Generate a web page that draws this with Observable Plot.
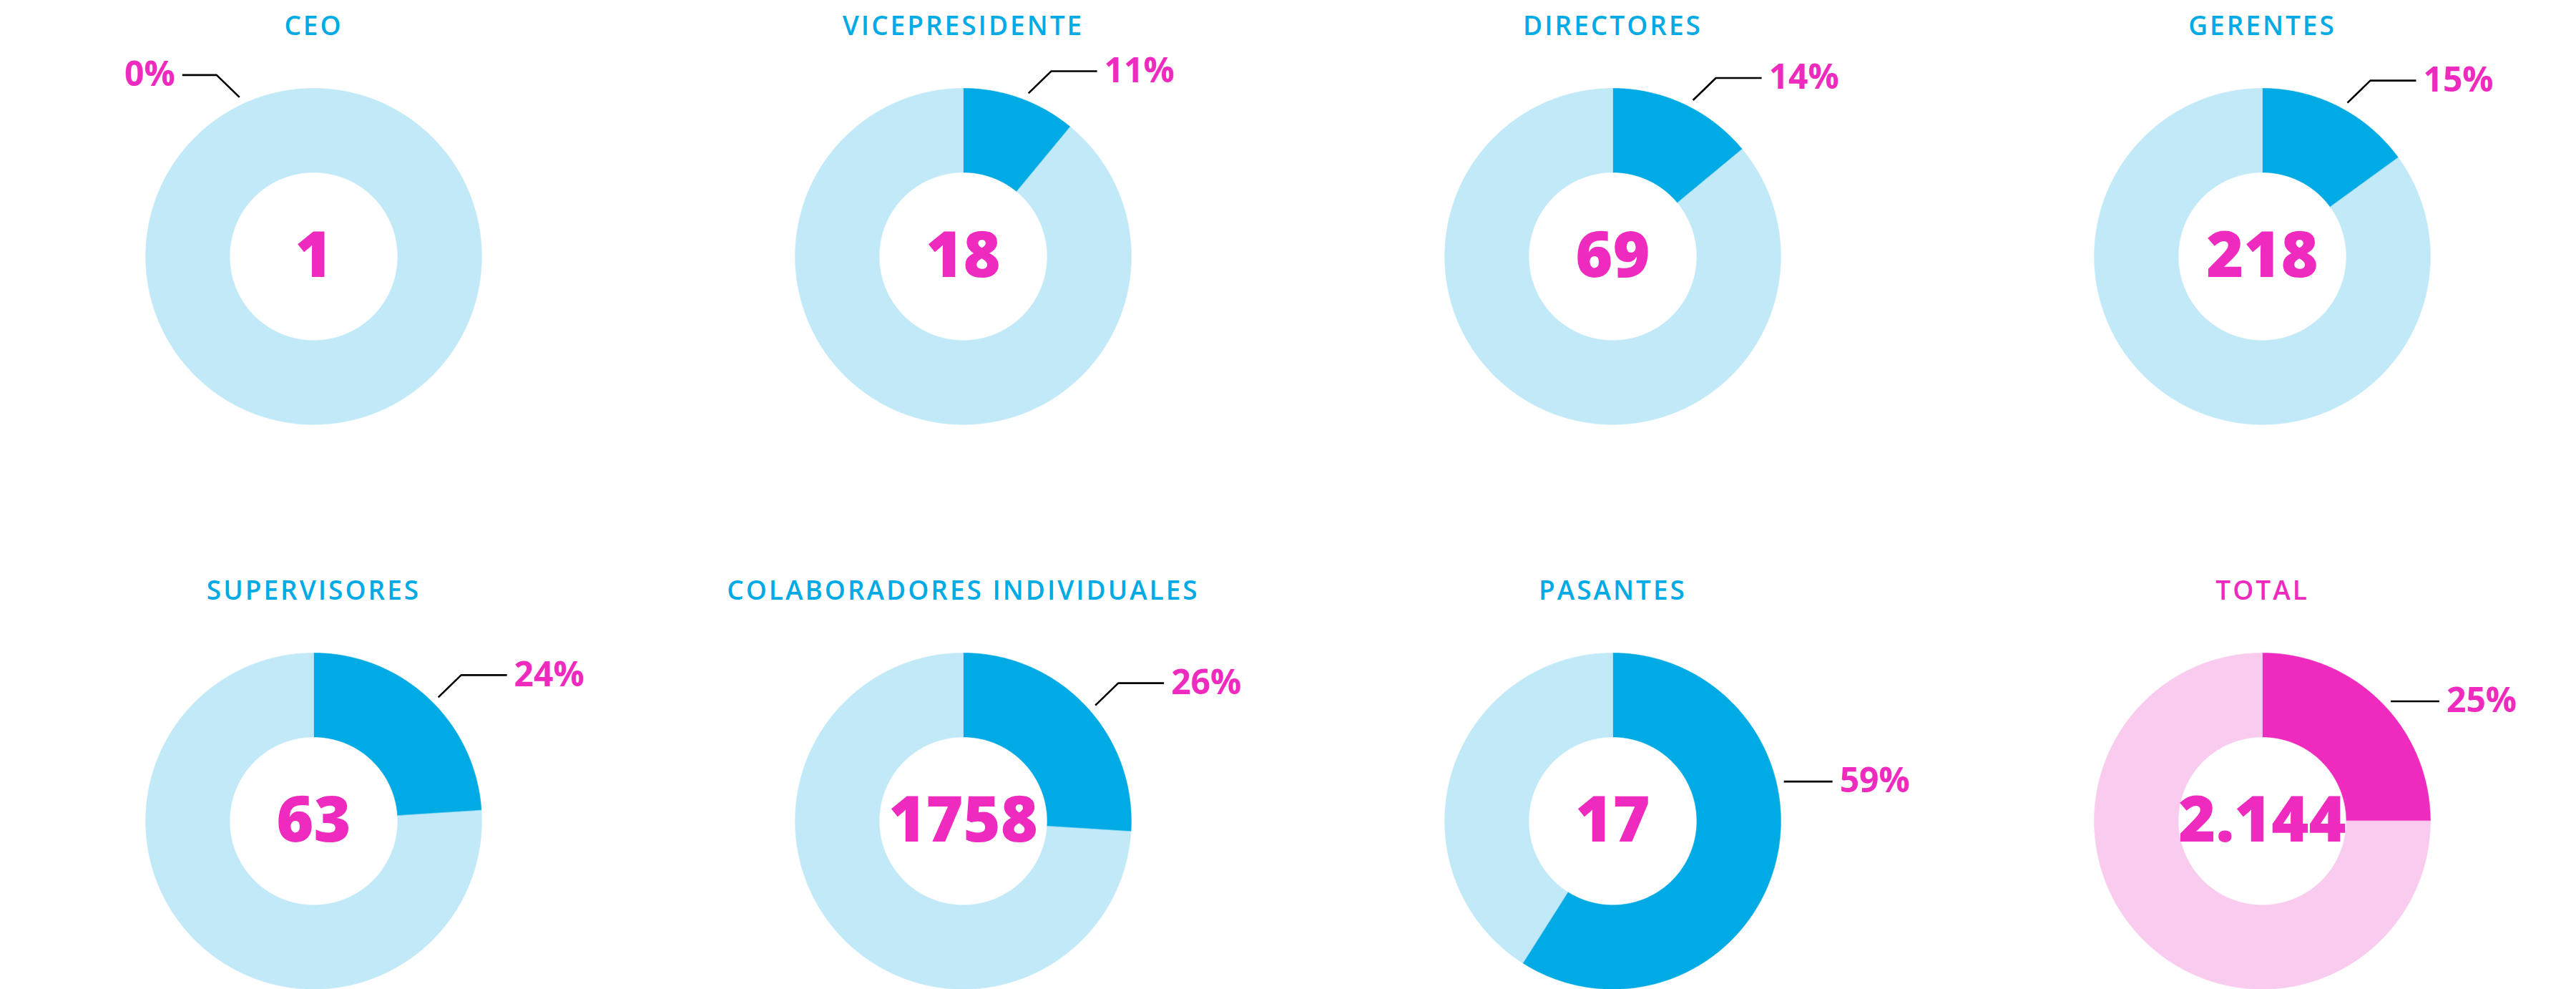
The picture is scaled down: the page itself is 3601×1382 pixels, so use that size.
<!DOCTYPE html>
<html>
<head>
<meta charset="utf-8">
<script src="https://cdn.jsdelivr.net/npm/d3@7"></script>
<script src="https://cdn.jsdelivr.net/npm/@observablehq/plot@0.6"></script>
<style>
  html, body { margin: 0; padding: 0; background: #ffffff; }
  #chart svg { display: block; }
  #chart g[font-size="37"] text { letter-spacing: 3px; }
</style>
</head>
<body>
<div id="chart"></div>
<script>
// ---------------- data ----------------
const categories = ["CEO", "VICEPRESIDENTE", "DIRECTORES", "GERENTES",
                    "SUPERVISORES", "COLABORADORES INDIVIDUALES", "PASANTES", "TOTAL"];
const counts = [1, 18, 69, 218, 63, 1758, 17, 2144];
const womenPct = [0, 11, 14, 15, 24, 26, 59, 25];

// ---------------- styles / layout config ----------------
const BLUE = "#00AAE4", LIGHT_BLUE = "#C1E9F8";
const PINK = "#EF2BBF", LIGHT_PINK = "#F9CBEE";
const W = 3601, H = 1382;
const UNIT = 235;          // px per outer radius
const INNER = 0.5;         // inner radius ratio
const FX_PAD = 0.035, FY_PAD = 0.25;
const CENTER_FROM_TOP = 357; // px from top of facet cell to donut centre
const straightLeader = new Set(["PASANTES", "TOTAL"]);
const DEG = Math.PI / 180;

const esFormat = d3.formatLocale({decimal: ",", thousands: ".", grouping: [3], currency: ["", ""]}).format(",");

const bwX = (W / (4 - FX_PAD)) * (1 - FX_PAD);
const bwY = (H / (2 - FY_PAD)) * (1 - FY_PAD);
const ax = bwX / (2 * UNIT);
const yTop = CENTER_FROM_TOP / UNIT;
const yBot = -(bwY - CENTER_FROM_TOP) / UNIT;

const rows = categories.map((name, i) => ({
  name, i, col: i % 4, row: Math.floor(i / 4),
  count: counts[i], pct: womenPct[i], isTotal: name === "TOTAL"
}));

// ring slice polygons (in radius units)
const ringPts = [];
for (const d of rows) {
  const a = d.pct / 100 * 2 * Math.PI;
  const parts = [
    {key: d.name + "-w", a0: 0, a1: a, color: d.isTotal ? PINK : BLUE},
    {key: d.name + "-r", a0: a, a1: 2 * Math.PI, color: d.isTotal ? LIGHT_PINK : LIGHT_BLUE}
  ];
  for (const p of parts) {
    if (p.a1 - p.a0 <= 1e-9) continue;
    const n = Math.max(2, Math.ceil((p.a1 - p.a0) / (0.5 * DEG)));
    for (let k = 0; k <= n; k++) {
      const t = p.a0 + (p.a1 - p.a0) * k / n;
      ringPts.push({key: p.key, col: d.col, row: d.row, color: p.color, x: Math.sin(t), y: Math.cos(t)});
    }
    for (let k = n; k >= 0; k--) {
      const t = p.a0 + (p.a1 - p.a0) * k / n;
      ringPts.push({key: p.key, col: d.col, row: d.row, color: p.color, x: INNER * Math.sin(t), y: INNER * Math.cos(t)});
    }
  }
}

// leader lines + percentage labels
const leaderPts = [];
const pctLabels = [];
for (const d of rows) {
  const th = d.pct === 0 ? -25 * DEG : Math.min(77, Math.max(21, d.pct * 1.8 + 2)) * DEG;
  const side = Math.sin(th) >= 0 ? 1 : -1;
  const r0 = 1.045;
  const S = [r0 * Math.sin(th), r0 * Math.cos(th)];
  let E, F;
  if (straightLeader.has(d.name)) {
    E = S;
    F = [S[0] + side * 68 / UNIT, S[1]];
  } else {
    E = [S[0] + side * 32 / UNIT, S[1] + 31 / UNIT];
    F = [E[0] + side * (side > 0 ? 64 : 48) / UNIT, E[1]];
  }
  for (const P of [S, E, F]) leaderPts.push({key: d.name, col: d.col, row: d.row, x: P[0], y: P[1]});
  pctLabels.push({col: d.col, row: d.row, x: F[0] + side * 10 / UNIT, y: F[1],
                  text: d.pct + "%", side});
}

const titleY = 321 / UNIT;
const pctStyle = {x: "x", y: "y", fx: "col", fy: "row", text: "text",
                  fill: PINK, fontSize: 48, fontWeight: 700, lineAnchor: "middle"};

const chart = Plot.plot({
  width: W,
  height: H,
  margin: 0,
  fx: {axis: null, domain: [0, 1, 2, 3], paddingInner: FX_PAD, paddingOuter: 0},
  fy: {axis: null, domain: [0, 1], paddingInner: FY_PAD, paddingOuter: 0},
  x: {axis: null, domain: [-ax, ax]},
  y: {axis: null, domain: [yBot, yTop]},
  color: {type: "identity"},
  style: {fontFamily: "'Open Sans', sans-serif", background: "#ffffff", overflow: "visible"},
  marks: [
    Plot.line(ringPts, {
      x: "x", y: "y", z: "key", fx: "col", fy: "row",
      fill: "color", stroke: "color", strokeWidth: 0.6, curve: "linear-closed"
    }),
    Plot.line(leaderPts, {
      x: "x", y: "y", z: "key", fx: "col", fy: "row",
      stroke: "#000000", strokeWidth: 2.6, strokeLinejoin: "miter", strokeLinecap: "butt"
    }),
    Plot.text(pctLabels.filter(d => d.side > 0), {...pctStyle, textAnchor: "start"}),
    Plot.text(pctLabels.filter(d => d.side < 0), {...pctStyle, textAnchor: "end"}),
    Plot.text(rows, {
      x: () => 0, y: () => 0, fx: "col", fy: "row",
      text: d => d.isTotal ? esFormat(d.count) : String(d.count),
      fill: PINK, fontSize: 89, fontWeight: 800, lineAnchor: "middle"
    }),
    Plot.text(rows, {
      x: () => 0, y: () => titleY, fx: "col", fy: "row",
      text: "name", fill: d => d.isTotal ? PINK : BLUE,
      fontSize: 37, fontWeight: 600, lineAnchor: "middle"
    })
  ]
});
document.getElementById("chart").appendChild(chart);
</script>
</body>
</html>
